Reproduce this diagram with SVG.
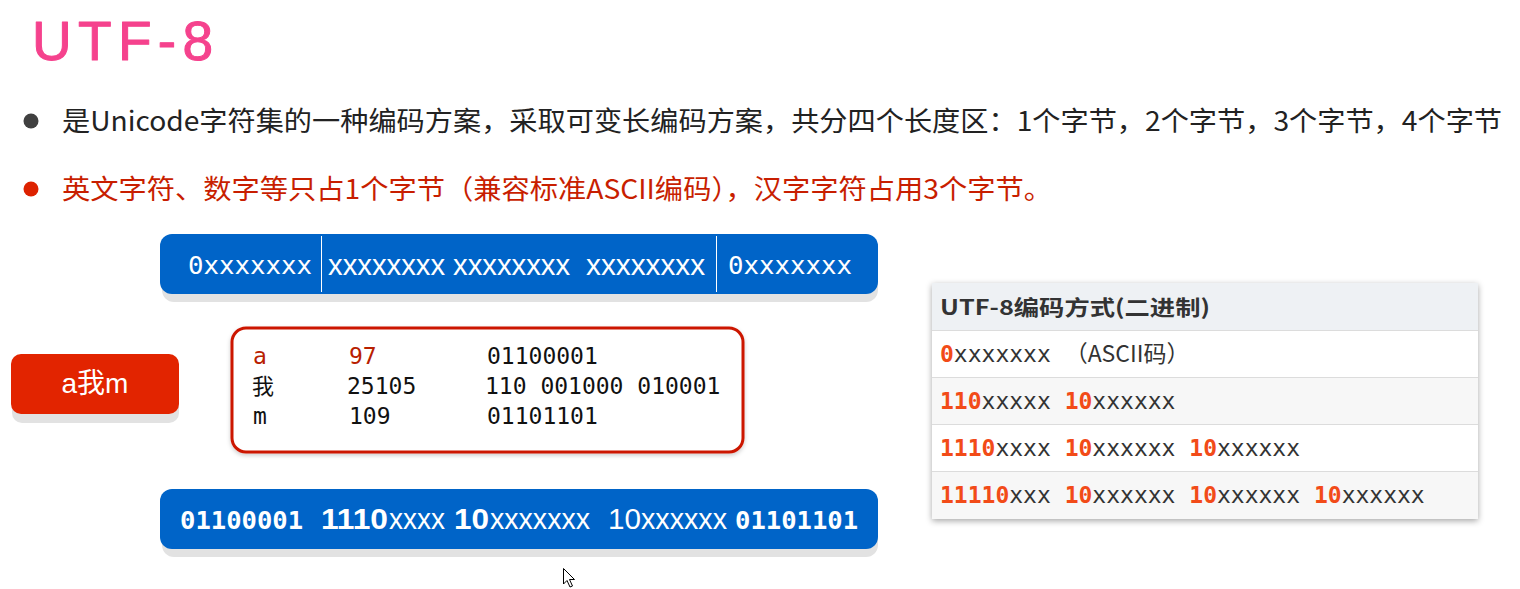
<svg xmlns="http://www.w3.org/2000/svg" width="1520" height="589" viewBox="0 0 1520 589">
<defs>
<style>
.cjk{font-family:"Noto Sans CJK SC","Noto Sans",sans-serif;}
.mono{font-family:"DejaVu Sans Mono","Liberation Mono",monospace;}
.sans{font-family:"Liberation Sans","Noto Sans CJK SC",sans-serif;}
.wt{fill:#ffffff;}
.bar{fill:#0064c8;}
.shadow{fill:#e2e2e2;}
.hl{fill:#f24b18;font-weight:bold;}
.gr{fill:#333333;}
.sep{stroke:#dcdcdc;stroke-width:1;}
</style>
<filter id="tblsh" x="-5%" y="-10%" width="110%" height="125%">
<feDropShadow dx="0" dy="2" stdDeviation="3" flood-color="#000" flood-opacity="0.35"/>
</filter>
<filter id="boxsh" x="-5%" y="-10%" width="110%" height="125%">
<feDropShadow dx="0" dy="2" stdDeviation="2" flood-color="#000" flood-opacity="0.2"/>
</filter>
</defs>
<rect width="1520" height="589" fill="#ffffff"/>

<g id="title">
<text x="32" y="60" class="sans" font-size="55" fill="#f5428d" stroke="#f5428d" stroke-width="1" stroke-linejoin="round" letter-spacing="9" textLength="190" lengthAdjust="spacing">UTF-8</text>
</g>

<g id="bullet1">
<circle cx="31" cy="121" r="7.5" fill="#404040"/>
<text x="62" y="131" class="cjk" font-size="27" fill="#222222" textLength="1440" lengthAdjust="spacingAndGlyphs">是Unicode字符集的一种编码方案，采取可变长编码方案，共分四个长度区：1个字节，2个字节，3个字节，4个字节</text>
</g>

<g id="bullet2">
<circle cx="31" cy="189" r="7.5" fill="#dd2200"/>
<text x="62" y="199" class="cjk" font-size="27" fill="#c81e00" textLength="990" lengthAdjust="spacingAndGlyphs">英文字符、数字等只占1个字节（兼容标准ASCII编码），汉字字符占用3个字节。</text>
</g>

<g id="topbar">
<rect x="162" y="242" width="716" height="60" rx="12" class="shadow"/>
<rect x="160" y="234" width="718" height="60" rx="12" class="bar"/>
<line x1="321.5" y1="236" x2="321.5" y2="292" stroke="#ffffff" stroke-width="1"/>
<line x1="716.5" y1="236" x2="716.5" y2="292" stroke="#ffffff" stroke-width="1"/>
<text x="188" y="274" class="mono wt" font-size="24" textLength="124" lengthAdjust="spacingAndGlyphs">0xxxxxxx</text>
<text x="328" y="275" class="sans wt" font-size="30" textLength="117" lengthAdjust="spacingAndGlyphs">xxxxxxxx</text>
<text x="453" y="275" class="sans wt" font-size="30" textLength="117" lengthAdjust="spacingAndGlyphs">xxxxxxxx</text>
<text x="586" y="275" class="sans wt" font-size="30" textLength="119" lengthAdjust="spacingAndGlyphs">xxxxxxxx</text>
<text x="728" y="274" class="mono wt" font-size="24" textLength="124" lengthAdjust="spacingAndGlyphs">0xxxxxxx</text>
</g>

<g id="abutton">
<rect x="12" y="363" width="167" height="60" rx="10" class="shadow"/>
<rect x="11" y="354" width="168" height="60" rx="10" fill="#e22400"/>
<text x="95" y="393" class="sans wt" font-size="28" text-anchor="middle">a我m</text>
</g>

<g id="codebox">
<rect x="232" y="328" width="511" height="124" rx="14" fill="#ffffff" stroke="#cc1800" stroke-width="3" filter="url(#boxsh)"/>
<g class="mono" font-size="23">
<text x="253" y="364" fill="#b82000">a</text>
<text x="349" y="364" fill="#b82000">97</text>
<text x="487" y="364" fill="#111111">01100001</text>
<text x="252" y="394" class="cjk" fill="#111111" font-size="22">我</text>
<text x="347" y="394" fill="#111111">25105</text>
<text x="485" y="394" fill="#111111">110 001000 010001</text>
<text x="253" y="424" fill="#111111">m</text>
<text x="349" y="424" fill="#111111">109</text>
<text x="487" y="424" fill="#111111">01101101</text>
</g>
</g>

<g id="bottombar">
<rect x="162" y="497" width="716" height="60" rx="12" class="shadow"/>
<rect x="160" y="489" width="718" height="60" rx="12" class="bar"/>
<text x="180" y="529" class="mono wt" font-size="24" font-weight="bold" textLength="123" lengthAdjust="spacingAndGlyphs">01100001</text>
<text x="321" y="529" class="sans wt" font-size="30" font-weight="bold" textLength="67" lengthAdjust="spacingAndGlyphs">1110</text>
<text x="389" y="529" class="sans wt" font-size="29" textLength="56" lengthAdjust="spacingAndGlyphs">xxxx</text>
<text x="454" y="529" class="sans wt" font-size="30" font-weight="bold" textLength="35" lengthAdjust="spacingAndGlyphs">10</text>
<text x="490" y="529" class="sans wt" font-size="29" textLength="100" lengthAdjust="spacingAndGlyphs">xxxxxxx</text>
<text x="608" y="529" class="sans wt" font-size="29" textLength="33" lengthAdjust="spacingAndGlyphs">10</text>
<text x="641" y="529" class="sans wt" font-size="29" textLength="86" lengthAdjust="spacingAndGlyphs">xxxxxx</text>
<text x="735" y="529" class="mono wt" font-size="24" font-weight="bold" textLength="123" lengthAdjust="spacingAndGlyphs">01101101</text>
</g>

<g id="table">
<rect x="932" y="283" width="546" height="236" fill="#ffffff" filter="url(#tblsh)"/>
<rect x="932" y="283" width="546" height="47" fill="#eef1f4"/>
<rect x="932" y="330" width="546" height="47" fill="#ffffff"/>
<rect x="932" y="377" width="546" height="47" fill="#f7f7f7"/>
<rect x="932" y="424" width="546" height="47" fill="#ffffff"/>
<rect x="932" y="471" width="546" height="48" fill="#f7f7f7"/>
<line x1="932" y1="330.5" x2="1478" y2="330.5" class="sep"/>
<line x1="932" y1="377.5" x2="1478" y2="377.5" class="sep"/>
<line x1="932" y1="424.5" x2="1478" y2="424.5" class="sep"/>
<line x1="932" y1="471.5" x2="1478" y2="471.5" class="sep"/>
<text x="940" y="315" class="cjk gr" font-size="21" font-weight="bold" textLength="270" lengthAdjust="spacingAndGlyphs">UTF-8编码方式(二进制)</text>
<g class="mono" font-size="23">
<text x="940" y="362" class="gr"><tspan class="hl">0</tspan>xxxxxxx <tspan class="cjk">（ASCII码）</tspan></text>
<text x="940" y="409" class="gr"><tspan class="hl">110</tspan>xxxxx <tspan class="hl">10</tspan>xxxxxx</text>
<text x="940" y="456" class="gr"><tspan class="hl">1110</tspan>xxxx <tspan class="hl">10</tspan>xxxxxx <tspan class="hl">10</tspan>xxxxxx</text>
<text x="940" y="503" class="gr"><tspan class="hl">11110</tspan>xxx <tspan class="hl">10</tspan>xxxxxx <tspan class="hl">10</tspan>xxxxxx <tspan class="hl">10</tspan>xxxxxx</text>
</g>
</g>

<path d="M563.5,568.5 L563.5,584 L567,580.5 L570,587 L572.5,586 L569.5,579.5 L574.5,579.5 Z" fill="#ffffff" stroke="#000000" stroke-width="1"/>
</svg>
